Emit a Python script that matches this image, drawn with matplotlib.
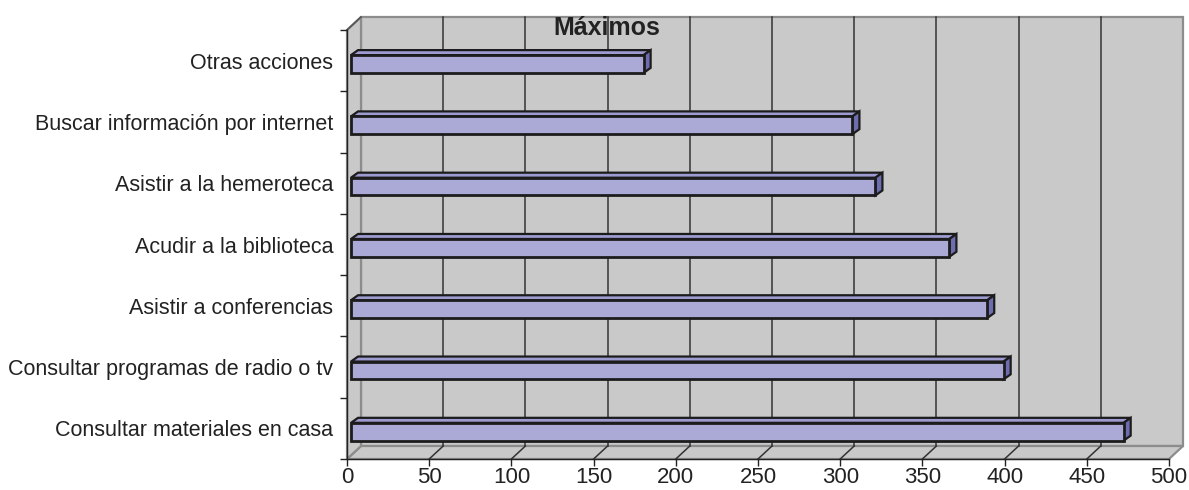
import numpy as np
import matplotlib
matplotlib.use('Agg')
import matplotlib.pyplot as plt
import matplotlib.transforms as mtransforms
from matplotlib.patches import Polygon

categories = ['Consultar materiales en casa', 'Consultar programas de radio o tv',
              'Asistir a conferencias', 'Acudir a la biblioteca',
              'Asistir a la hemeroteca', 'Buscar información por internet',
              'Otras acciones']
values = [470, 397, 387, 364, 319, 305, 178]
x_ticks = [0, 50, 100, 150, 200, 250, 300, 350, 400, 450, 500]
title = 'Máximos'

plt.rcParams['font.family'] = ['Liberation Sans', 'DejaVu Sans']

W, H = 1189, 490
fig = plt.figure(figsize=(W / 100, H / 100), dpi=100)
# front plane of the 3d box, in pixels
left_px, right_px, top_px, bottom_px = 347, 1169, 30, 459
ax = fig.add_axes([left_px / W, 1 - bottom_px / H, (right_px - left_px) / W, (bottom_px - top_px) / H])
ax.set_facecolor('none')

n = len(categories)
ax.set_xlim(0, 500)
ax.set_ylim(-0.5, n - 0.5)
px_x = 500 / (right_px - left_px)      # data units per pixel
px_y = n / (bottom_px - top_px)

# depth of the box
DX, DY = 14 * px_x, 13 * px_y
y0, y1 = -0.5, n - 0.5
wall = '#c9c9c9'
ax.add_patch(Polygon([(DX, y0 + DY), (500 + DX, y0 + DY), (500 + DX, y1 + DY), (DX, y1 + DY)],
                     closed=True, facecolor=wall, edgecolor='#8c8c8c', lw=1.6, clip_on=False, zorder=0))
ax.add_patch(Polygon([(0, y0), (500, y0), (500 + DX, y0 + DY), (DX, y0 + DY)],
                     closed=True, facecolor=wall, edgecolor='#8c8c8c', lw=1.6, clip_on=False, zorder=0.2))
ax.add_patch(Polygon([(0, y0), (DX, y0 + DY), (DX, y1 + DY), (0, y1)],
                     closed=True, facecolor=wall, edgecolor='#8c8c8c', lw=1.6, clip_on=False, zorder=0.2))
ax.plot([0, DX], [y1, y1 + DY], color='#555555', lw=1.2, clip_on=False, zorder=0.3)

# gridlines on back wall and floor
for t in x_ticks[1:-1]:
    ax.plot([t + DX, t + DX], [y0 + DY, y1 + DY], color='#333333', lw=1.1, clip_on=False, zorder=0.5)
    ax.plot([t, t + DX], [y0, y0 + DY], color='#333333', lw=1.1, clip_on=False, zorder=0.5)

# bars (front face shifted into the box)
off = mtransforms.offset_copy(ax.transData, fig=fig, x=4, y=4, units='dots')
pos = np.arange(n) - 0.12
bh = 0.29
bdx, bdy = 7 * px_x, 5 * px_y
front = '#aba9d6'
topc = '#9d9bcf'
sidec = '#6d6db0'
edge = '#1c1c1c'
for p, v in zip(pos, values):
    yb, yt = p - bh / 2, p + bh / 2
    ax.add_patch(Polygon([(0, yt), (v, yt), (v + bdx, yt + bdy), (bdx, yt + bdy)], closed=True,
                         facecolor=topc, edgecolor=edge, lw=1.6, transform=off, clip_on=False, zorder=2))
    ax.add_patch(Polygon([(v, yb), (v, yt), (v + bdx, yt + bdy), (v + bdx, yb + bdy)], closed=True,
                         facecolor=sidec, edgecolor=edge, lw=1.6, transform=off, clip_on=False, zorder=2))
ax.barh(pos, values, height=bh, color=front, edgecolor=edge, linewidth=2.0,
        transform=off, clip_on=False, zorder=3)

# axes
for s in ['top', 'right']:
    ax.spines[s].set_visible(False)
for s in ['left', 'bottom']:
    ax.spines[s].set_color('#222222')
    ax.spines[s].set_linewidth(1.0)
    ax.spines[s].set_zorder(4)
ax.set_xticks(x_ticks)
ax.set_xticklabels([str(t) for t in x_ticks])
ax.tick_params(axis='x', direction='out', length=5, width=1, color='#222222',
               labelsize=16, labelcolor='#222222', pad=1)
ax.set_yticks(np.arange(-0.5, n, 1.0))
ax.set_yticklabels([])
ax.tick_params(axis='y', which='major', direction='out', length=5, width=1, color='#222222')
ax.set_yticks(np.arange(n), minor=True)
ax.set_yticklabels(categories, minor=True)
ax.tick_params(axis='y', which='minor', length=0, pad=10, labelsize=15.5, labelcolor='#222222')

fig.text(607 / W, 1 - 28 / H, title, ha='center', va='center', fontsize=18,
         fontweight='bold', color='#222222')

fig.savefig('out.png', dpi=100)
